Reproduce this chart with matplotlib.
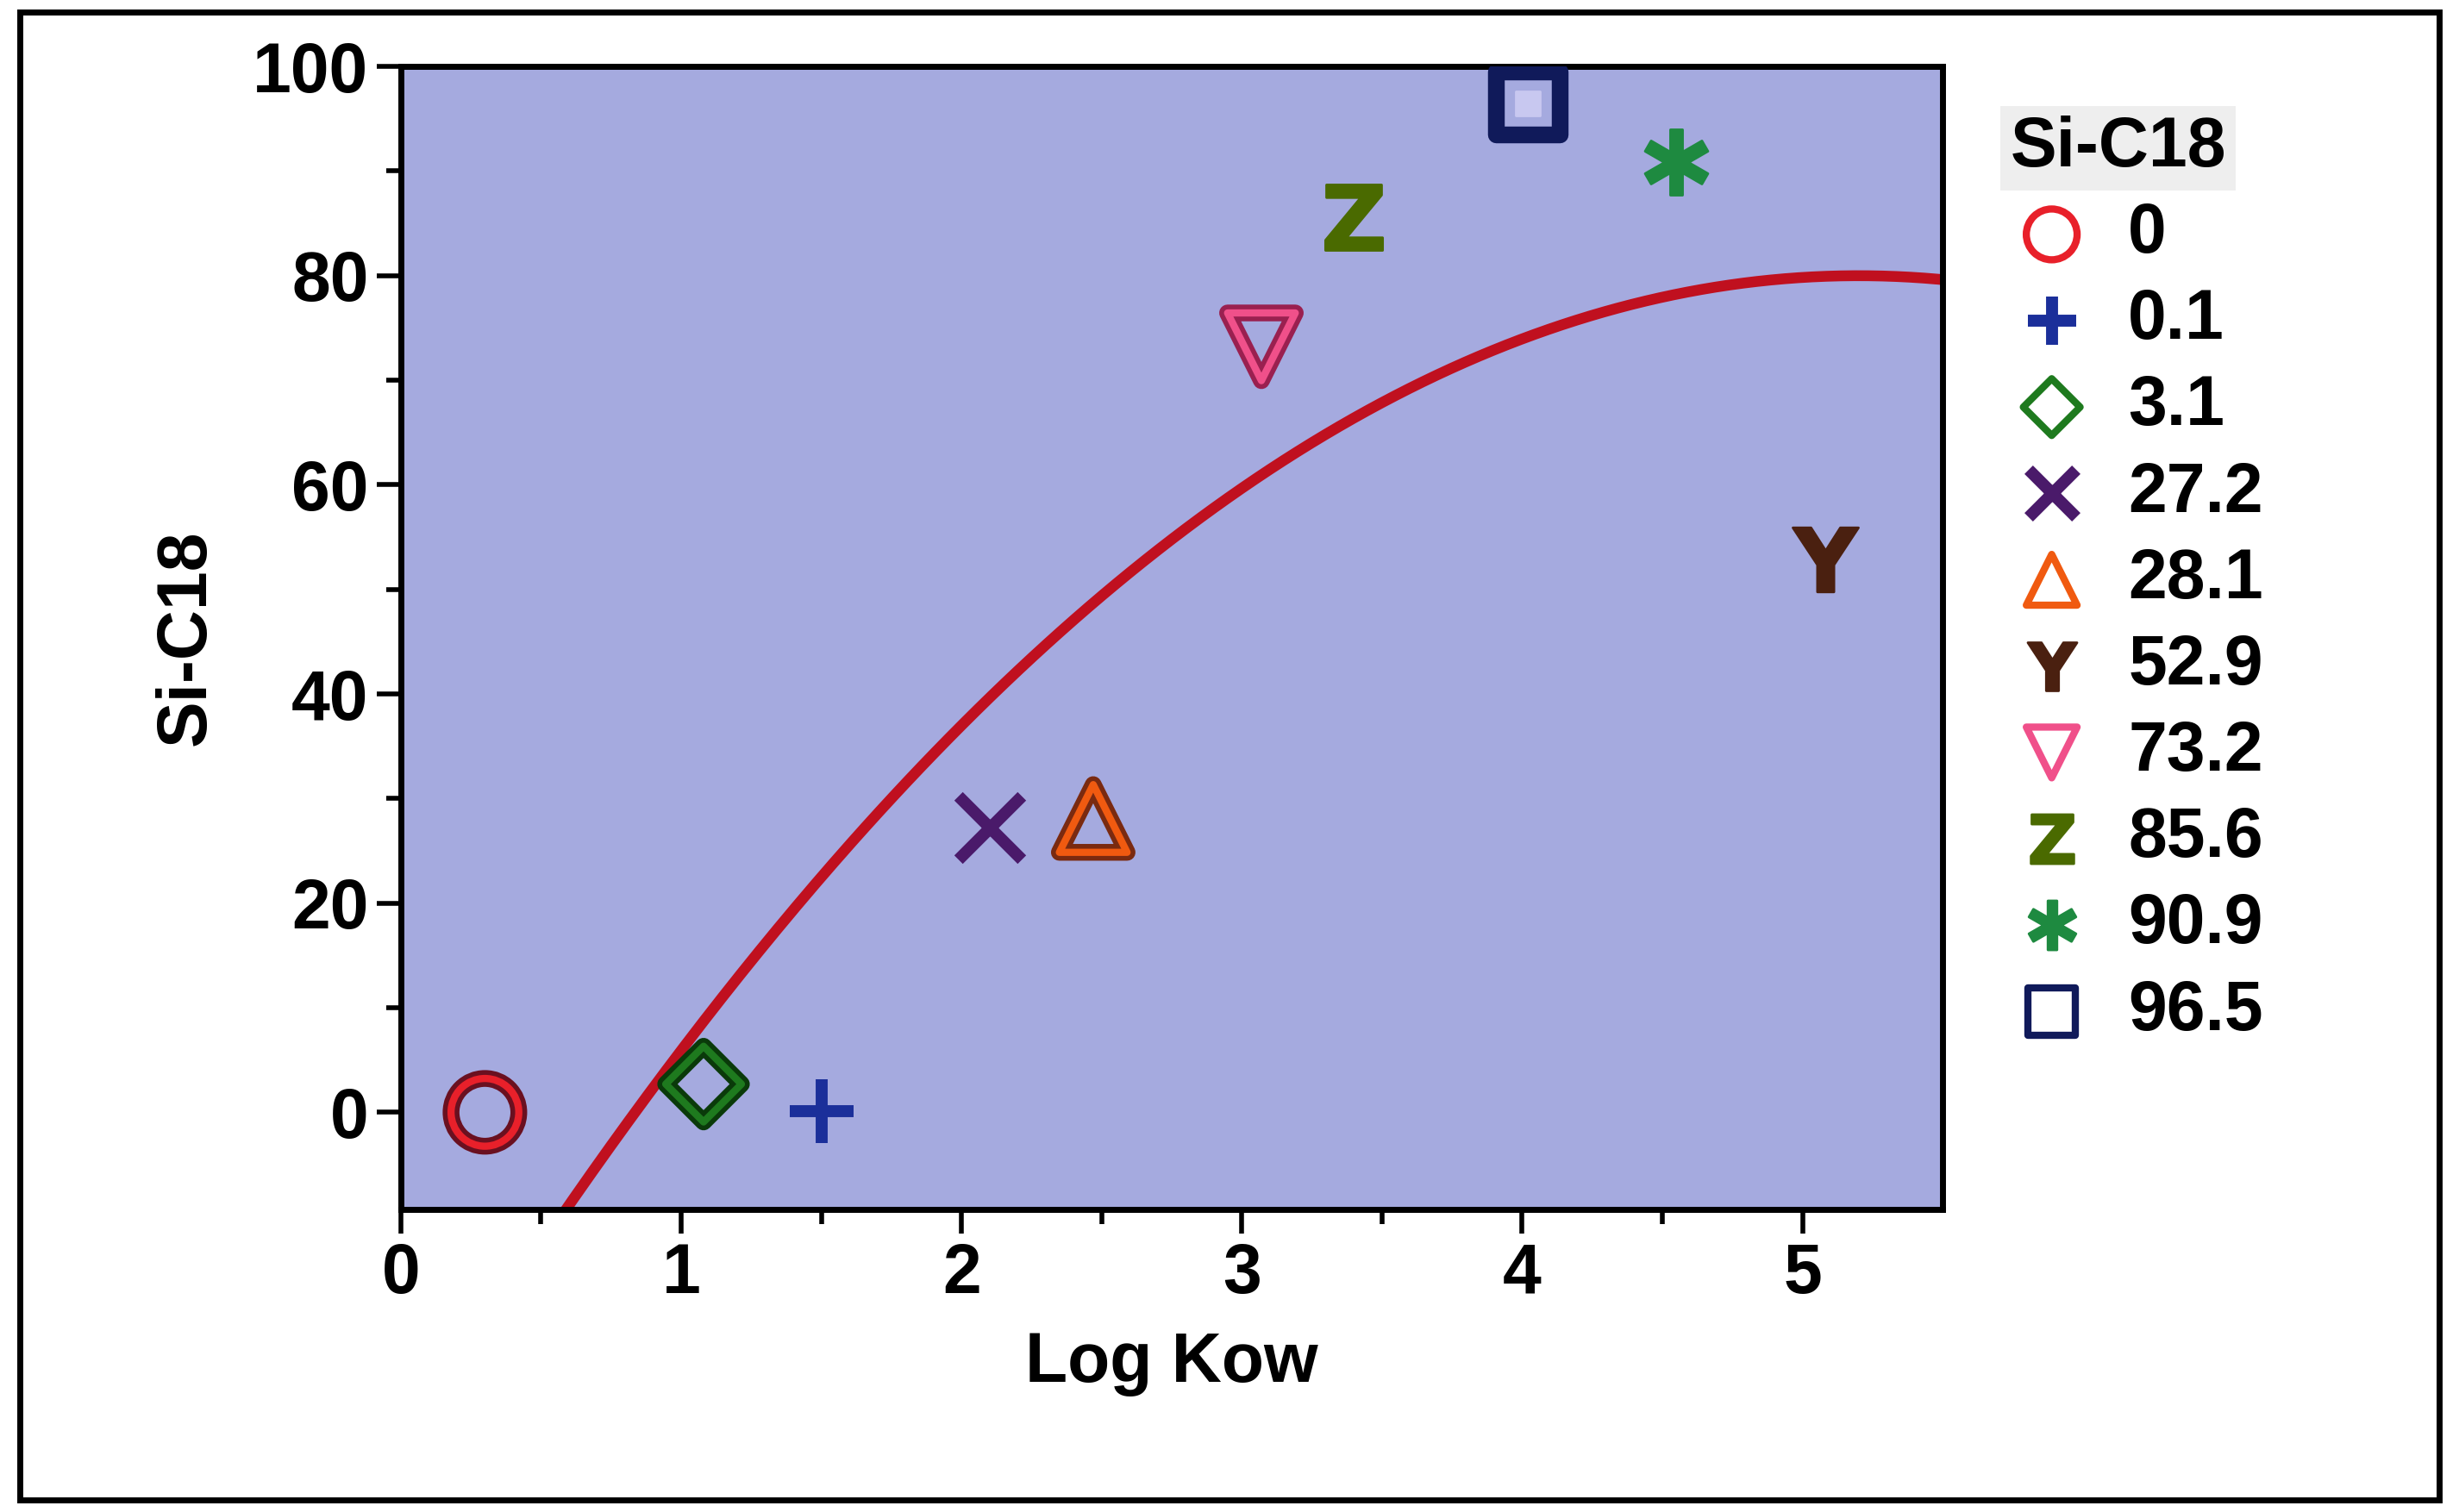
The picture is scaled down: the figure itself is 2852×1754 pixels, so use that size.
import numpy as np
import matplotlib
matplotlib.use("Agg")
import matplotlib.pyplot as plt
from matplotlib.patches import Rectangle

labels = ["0", "0.1", "3.1", "27.2", "28.1", "52.9", "73.2", "85.6", "90.9", "96.5"]
logkow = [0.30, 1.50, 1.08, 2.10, 2.47, 5.08, 3.07, 3.40, 4.55, 4.02]
sic18 = [0.0, 0.1, 2.7, 27.2, 28.1, 52.9, 73.2, 85.6, 90.9, 96.5]
markers = ["o", "P", "D", "X", "^", r"$\mathbf{Y}$", "v", r"$\mathbf{Z}$", r"$\ast$", "s"]
colors = ["#E8202A", "#1B2F9A", "#1E7A1E", "#4A1A6A", "#F05A10", "#4A2010", "#F0508A", "#4A6A00", "#1E8A40", "#101A5A"]
edge_dark = ["#6A1020", "#1B2F9A", "#0A3A0A", "#4A1A6A", "#7A2A10", "#4A2010", "#9A2050", "#2A3A00", "#1E8A40", "#101A5A"]
# fitted quadratic: y = a*(x - x0)^2 + y0
fit_a, fit_x0, fit_y0 = -4.2, 5.2, 80.0

plt.rcParams['font.family'] = ['Liberation Sans', 'DejaVu Sans']
plt.rcParams['font.weight'] = 'bold'

fig = plt.figure(figsize=(14.26, 8.77), dpi=200)
fig.patches.append(Rectangle((0.008, 0.008), 0.984, 0.984, transform=fig.transFigure,
                             fill=False, edgecolor='black', linewidth=2.5))
ax = fig.add_axes([0.163, 0.2, 0.627, 0.756])
ax.set_facecolor('#A5AADF')
ax.set_xlim(0, 5.5)
ax.set_ylim(-9.3, 100)

xs = np.linspace(0.55, 5.5, 300)
ax.plot(xs, fit_a * (xs - fit_x0) ** 2 + fit_y0, color='#C0101F', lw=4.5, zorder=2)

sizes = {"o": 800, "D": 500, "^": 800, "v": 800, "s": 700}
handles = []
for x, y, m, c, e, l in zip(logkow, sic18, markers, colors, edge_dark, labels):
    if m in sizes:
        s = sizes[m]
        ax.scatter([x], [y], marker=m, s=s, facecolor='none', edgecolor=e, linewidths=7, zorder=3)
        h = ax.scatter([x], [y], marker=m, s=s, facecolor='none', edgecolor=c, linewidths=3, zorder=4)
        if m == "s":
            ax.scatter([x], [y], marker="s", s=100, color='#C8C8F0', zorder=5)
    elif m in ("P", "X"):
        mm = "+" if m == "P" else "x"
        h = ax.scatter([x], [y], marker=mm, s=700, color=c, linewidths=5, zorder=4)
    else:
        h = ax.scatter([x], [y], marker=m, s=750, color=c, linewidths=1, zorder=4)
    handles.append(h)

ax.set_xticks([0, 1, 2, 3, 4, 5])
ax.set_xticks(np.arange(0.5, 5.5, 1.0), minor=True)
ax.set_yticks([0, 20, 40, 60, 80, 100])
ax.set_yticks(np.arange(10, 100, 20), minor=True)
ax.tick_params(axis='both', which='major', labelsize=29, length=10, width=2, direction='out')
ax.tick_params(axis='both', which='minor', length=6, width=2, direction='out')
for s in ax.spines.values():
    s.set_linewidth(2.5)
ax.set_xlabel("Log Kow", fontsize=29, fontweight='bold', labelpad=10)
ax.set_ylabel("Si-C18", fontsize=29, fontweight='bold', labelpad=14)

leg = fig.legend(handles, labels, loc='upper left', bbox_to_anchor=(0.792, 0.965),
                 frameon=False, fontsize=29, handletextpad=0.5, labelspacing=0.3,
                 handlelength=1.2, markerscale=0.75, title="Si-C18", alignment='left')
leg.get_title().set_fontsize(29)
leg.get_title().set_fontweight('bold')
leg.get_title().set_bbox(dict(facecolor='#EEEEEE', edgecolor='none', pad=4))

fig.savefig("out.png", dpi=200)
